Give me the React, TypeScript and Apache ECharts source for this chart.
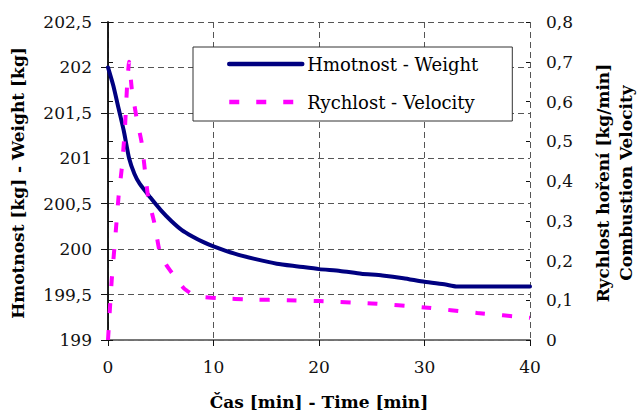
import React, { useEffect, useRef } from "react";
import * as echarts from "echarts";

const xTicks = [0, 10, 20, 30, 40];
const timeW = [0, 0.5, 1, 1.5, 2, 2.5, 3, 4, 5, 6, 7, 8, 9, 10, 12, 14, 16, 18, 20, 22, 24, 26, 28, 30, 32, 33, 35, 40];
const weight = [202.0, 201.8, 201.55, 201.3, 201.0, 200.83, 200.72, 200.57, 200.43, 200.31, 200.21, 200.14, 200.08, 200.03, 199.95, 199.89, 199.84, 199.81, 199.78, 199.76, 199.73, 199.71, 199.68, 199.64, 199.61, 199.59, 199.59, 199.59];
const timeV = [0, 0.35, 0.65, 1.0, 1.3, 1.6, 1.8, 2.0, 2.25, 2.7, 3.2, 3.8, 4.4, 4.9, 5.5, 6.3, 7.2, 8.1, 9, 10.6, 13.5, 17, 20, 25, 30, 35, 40];
const velocity = [0, 0.15, 0.245, 0.36, 0.43, 0.53, 0.635, 0.7, 0.633, 0.56, 0.495, 0.36, 0.294, 0.222, 0.19, 0.16, 0.13, 0.113, 0.108, 0.105, 0.102, 0.1, 0.098, 0.092, 0.082, 0.068, 0.056];
const seriesNames = ["Hmotnost - Weight", "Rychlost - Velocity"];
const xName = "Čas [min] - Time [min]";
const yLeftName = "Hmotnost [kg] - Weight [kg]";
const yRightName1 = "Rychlost hoření [kg/min]";
const yRightName2 = "Combustion Velocity";

const FONT = "DejaVu Serif";

export default function App() {
  const ref = useRef<HTMLDivElement>(null);
  useEffect(() => {
    const chart = echarts.init(ref.current!, null, { renderer: "svg" });
    const fmt = (v: number) => String(Math.round(v * 10) / 10).replace(".", ",");
    const gridColor = "#555";
    const nameStyle = { fontFamily: FONT, fontWeight: "bold", fontSize: 17, fill: "#000", textAlign: "center", textVerticalAlign: "middle" };
    const option = {
      animation: false,
      backgroundColor: "#fff",
      textStyle: { fontFamily: FONT },
      grid: { left: 108, right: 107, top: 22, bottom: 74 },
      legend: {
        orient: "vertical",
        left: 193,
        top: 47,
        data: seriesNames,
        itemWidth: 73,
        itemHeight: 18,
        itemGap: 20,
        padding: [8, 34, 10, 34],
        backgroundColor: "#fff",
        borderColor: "#333",
        borderWidth: 1,
        borderRadius: 0,
        itemStyle: { opacity: 0 },
        lineStyle: { width: 4.5 },
        textStyle: { fontFamily: FONT, fontSize: 18, color: "#000" },
      },
      xAxis: [
        {
          type: "value",
          min: 0,
          max: 40,
          interval: 10,
          axisLine: { show: true, lineStyle: { color: "#111", width: 1.5 } },
          axisTick: { show: true, length: 6, lineStyle: { color: "#111" } },
          axisLabel: {
            fontFamily: FONT,
            fontSize: 17,
            color: "#111",
            margin: 18,
            formatter: (v: number) => (xTicks.includes(v) ? String(v) : ""),
          },
          splitLine: { show: true, lineStyle: { color: gridColor, type: [6, 4], width: 1 } },
        },
        {
          type: "value",
          position: "top",
          min: 0,
          max: 40,
          axisLine: { show: true, lineStyle: { color: "#888", width: 1.5 } },
          axisTick: { show: false },
          axisLabel: { show: false },
          splitLine: { show: false },
        },
      ],
      yAxis: [
        {
          type: "value",
          position: "left",
          min: 199,
          max: 202.5,
          interval: 0.5,
          axisLine: { show: true, lineStyle: { color: "#111", width: 1.5 } },
          axisTick: { show: true, length: 7, lineStyle: { color: "#111" } },
          axisLabel: { fontFamily: FONT, fontSize: 17, color: "#111", margin: 16, formatter: fmt },
          splitLine: { show: true, lineStyle: { color: gridColor, type: [6, 4], width: 1 } },
        },
        {
          type: "value",
          position: "right",
          min: 0,
          max: 0.8,
          interval: 0.1,
          axisLine: { show: true, lineStyle: { color: "#111", width: 1.5 } },
          axisTick: { show: true, length: 5, lineStyle: { color: "#111" } },
          axisLabel: { fontFamily: FONT, fontSize: 17, color: "#111", margin: 16, formatter: fmt },
          splitLine: { show: false },
        },
        {
          type: "value",
          position: "right",
          min: 0,
          max: 0.8,
          interval: 0.1,
          axisLine: { show: false },
          axisTick: { show: true, inside: true, length: 4, lineStyle: { color: "#111" } },
          axisLabel: { show: false },
          splitLine: { show: false },
        },
      ],
      graphic: [
        { type: "text", x: 319, y: 402, style: { ...nameStyle, text: xName } },
        { type: "text", x: 18, y: 183, rotation: Math.PI / 2, style: { ...nameStyle, text: yLeftName } },
        { type: "text", x: 603, y: 183, rotation: Math.PI / 2, style: { ...nameStyle, text: yRightName1 } },
        { type: "text", x: 626, y: 183, rotation: Math.PI / 2, style: { ...nameStyle, text: yRightName2 } },
      ],
      series: [
        {
          name: seriesNames[0],
          type: "line",
          xAxisIndex: 0,
          yAxisIndex: 0,
          data: timeW.map((t, i) => [t, weight[i]]),
          showSymbol: false,
          symbol: "none",
          smooth: 0.2,
          lineStyle: { color: "#000080", width: 4, cap: "round" },
          itemStyle: { color: "#000080" },
          z: 3,
        },
        {
          name: seriesNames[1],
          type: "line",
          xAxisIndex: 0,
          yAxisIndex: 1,
          data: timeV.map((t, i) => [t, velocity[i]]),
          showSymbol: false,
          symbol: "none",
          smooth: 0.15,
          lineStyle: { color: "#ff00ff", width: 4, type: [10, 17], cap: "butt" },
          itemStyle: { color: "#ff00ff" },
          z: 3,
        },
      ],
    };
    chart.setOption(option as any);
    let alive = true;
    const fonts = (document as any).fonts;
    if (fonts && fonts.load) {
      Promise.all([fonts.load(`17px "${FONT}"`), fonts.load(`bold 17px "${FONT}"`)]).then(() => {
        if (alive) chart.setOption(option as any, true);
      });
    }
    return () => {
      alive = false;
      chart.dispose();
    };
  }, []);
  return <div ref={ref} style={{ position: "absolute", left: 0, top: 0, width: 637, height: 414 }} />;
}
